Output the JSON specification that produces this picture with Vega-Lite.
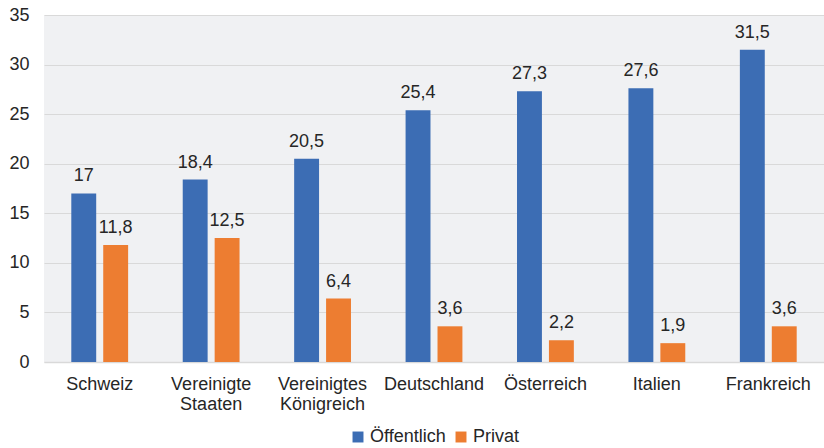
{
  "$schema": "https://vega.github.io/schema/vega-lite/v6.json",
  "width": 824,
  "height": 448,
  "autosize": {"type": "fit", "contains": "padding"},
  "padding": {"left": 8, "top": 6, "right": 0, "bottom": 2},
  "background": "white",
  "data": {
    "values": [
      {"land": "Schweiz", "typ": "Öffentlich", "wert": 17},
      {"land": "Schweiz", "typ": "Privat", "wert": 11.8},
      {"land": "Vereinigte Staaten", "typ": "Öffentlich", "wert": 18.4},
      {"land": "Vereinigte Staaten", "typ": "Privat", "wert": 12.5},
      {"land": "Vereinigtes Königreich", "typ": "Öffentlich", "wert": 20.5},
      {"land": "Vereinigtes Königreich", "typ": "Privat", "wert": 6.4},
      {"land": "Deutschland", "typ": "Öffentlich", "wert": 25.4},
      {"land": "Deutschland", "typ": "Privat", "wert": 3.6},
      {"land": "Österreich", "typ": "Öffentlich", "wert": 27.3},
      {"land": "Österreich", "typ": "Privat", "wert": 2.2},
      {"land": "Italien", "typ": "Öffentlich", "wert": 27.6},
      {"land": "Italien", "typ": "Privat", "wert": 1.9},
      {"land": "Frankreich", "typ": "Öffentlich", "wert": 31.5},
      {"land": "Frankreich", "typ": "Privat", "wert": 3.6}
    ]
  },
  "encoding": {
    "x": {
      "field": "land",
      "type": "nominal",
      "sort": null,
      "title": null,
      "scale": {"paddingInner": 0.49, "paddingOuter": 0.245},
      "axis": {
        "labelAngle": 0,
        "labelExpr": "split(datum.label, ' ')",
        "labelFontSize": 18,
        "labelLineHeight": 20,
        "labelColor": "#262626",
        "labelPadding": 13,
        "ticks": false,
        "domain": true,
        "domainColor": "#d9d9d9",
        "domainWidth": 1.5,
        "grid": false
      }
    },
    "xOffset": {
      "field": "typ",
      "type": "nominal",
      "sort": ["Öffentlich", "Privat"],
      "scale": {"paddingInner": 0.22, "paddingOuter": 0}
    },
    "y": {
      "field": "wert",
      "type": "quantitative",
      "title": null,
      "scale": {"domain": [0, 35], "nice": false},
      "axis": {
        "values": [0, 5, 10, 15, 20, 25, 30, 35],
        "labelFontSize": 18,
        "labelColor": "#262626",
        "labelPadding": 15,
        "ticks": false,
        "domain": false,
        "grid": true,
        "gridColor": "#d9d9d9",
        "gridWidth": 1.2
      }
    }
  },
  "layer": [
    {
      "mark": {"type": "bar"},
      "encoding": {
        "color": {
          "field": "typ",
          "type": "nominal",
          "sort": ["Öffentlich", "Privat"],
          "scale": {"domain": ["Öffentlich", "Privat"], "range": ["#3c6db4", "#ed7d31"]},
          "legend": {
            "title": null,
            "orient": "bottom",
            "direction": "horizontal",
            "symbolType": "square",
            "symbolSize": 120,
            "symbolStrokeWidth": 0,
            "labelFontSize": 18,
            "labelColor": "#262626",
            "labelOffset": 3,
            "columnPadding": 6,
            "offset": 15
          }
        }
      }
    },
    {
      "mark": {"type": "text", "baseline": "bottom", "dy": -8, "fontSize": 18, "color": "#262626"},
      "encoding": {
        "text": {"field": "wert", "type": "quantitative", "format": "~r"}
      }
    }
  ],
  "config": {
    "font": "Liberation Sans",
    "locale": {"number": {"decimal": ",", "thousands": ".", "grouping": [3], "currency": ["", " €"]}},
    "view": {"fill": "#f0f1f3", "stroke": null},
    "legend": {"layout": {"bottom": {"anchor": "middle"}}}
  }
}
